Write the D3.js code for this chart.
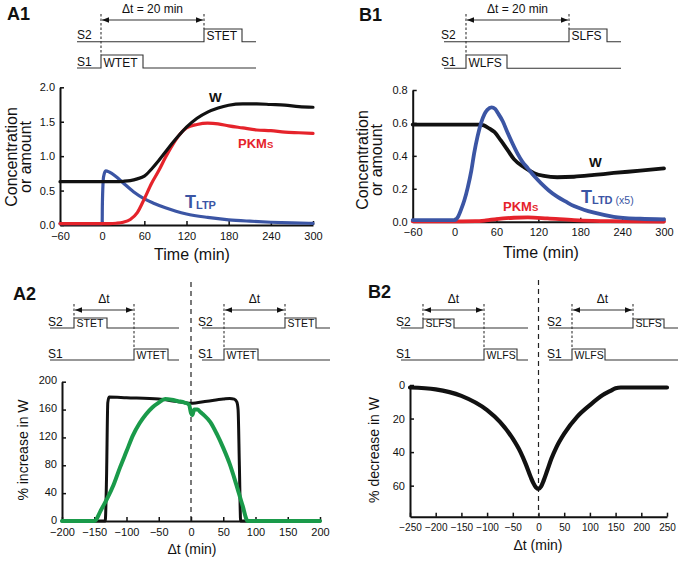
<!DOCTYPE html>
<html><head><meta charset="utf-8">
<script src="https://cdn.jsdelivr.net/npm/d3@7"></script>
<style>
body{margin:0;background:#fff;}
svg{font-family:"Liberation Sans",Arial,Helvetica,sans-serif;}
</style></head>
<body>
<svg id="c" width="682" height="562"></svg>
<script>
// ---------- DATA ----------
// A1
const tA1 = [-60,0,10,20,30,40,50,60,70,80,90,100,110,120,135,150,165,180,200,220,240,260,280,300];
const wA1 = [0.63,0.63,0.63,0.63,0.635,0.645,0.67,0.71,0.81,0.93,1.06,1.19,1.31,1.42,1.55,1.64,1.70,1.74,1.76,1.76,1.75,1.74,1.72,1.71];
const pkmA1 = [0.02,0.02,0.02,0.025,0.04,0.08,0.18,0.38,0.60,0.78,0.98,1.16,1.31,1.41,1.46,1.48,1.47,1.44,1.41,1.38,1.37,1.35,1.34,1.33];
const tTA1 = [-60,0,0.3,2,5,10,20,30,45,60,75,90,105,120,150,180,210,240,270,300];
const tltpA1 = [0.02,0.02,0.3,0.7,0.785,0.77,0.70,0.61,0.48,0.38,0.31,0.25,0.20,0.16,0.11,0.075,0.055,0.04,0.03,0.025];
const xTicksA1 = [-60,0,60,120,180,240,300];
const yTicksA1 = [0,0.5,1.0,1.5,2.0];
// B1
const tWB1 = [-60,0,20,35,42,50,57,66,76,85,100,114,128,147,171,200,228,266,300];
const wB1 = [0.59,0.59,0.59,0.59,0.585,0.565,0.545,0.495,0.435,0.38,0.33,0.295,0.278,0.27,0.273,0.284,0.296,0.31,0.324];
const tTB1 = [-60,0,5,9,14,19,24,28,33,38,43,47,53,58,62,69,76,83,90,97,105,114,124,135,147,160,171,185,200,228,266,300];
const tltdB1 = [0.01,0.01,0.03,0.07,0.13,0.21,0.31,0.415,0.52,0.6,0.655,0.68,0.695,0.685,0.66,0.61,0.54,0.475,0.415,0.365,0.324,0.277,0.233,0.19,0.152,0.12,0.095,0.073,0.055,0.03,0.018,0.014];
const tPB1 = [-60,0,30,45,60,85,105,133,171,220,300];
const pkmB1 = [0.002,0.002,0.003,0.008,0.016,0.024,0.026,0.02,0.01,0.003,0.001];
const xTicksB1 = [-60,0,60,120,180,240,300];
const yTicksB1 = [0,0.2,0.4,0.6,0.8];
// A2
const dtA2black = [-200,-140,-133,-131,-129,-127,-100,-50,-25,0,25,50,60,67,71,73,75,77,200];
const incA2black = [0,0,0,60,170,178,177,175,172,169,172,175,176,175,171,160,80,0,0];
const dtA2green = [-200,-150,-147,-140,-130,-120,-110,-100,-90,-80,-70,-60,-50,-40,-30,-20,-10,-3,0,2,5,10,15,20,30,40,50,60,70,80,88,90,200];
const incA2green = [0,0,2,15,32,52,77,100,123,140,153,163,170,175,174,172,170,167,155,152,160,160,156,152,142,125,105,82,53,22,0,0,0];
const xTicksA2 = [-200,-150,-100,-50,0,50,100,150,200];
const yTicksA2 = [0,40,80,120,160,200];
// B2
const dtB2 = [-250,-200,-150,-100,-75,-50,-35,-25,-15,-10,-5,0,5,10,17,25,35,50,75,100,125,140,150,160,200,250];
const decB2 = [1.5,2.6,6.5,15,22,32,40,47,55,58.5,61,62,60.5,57,51,44,37,29,19,12,6,3.5,2,1.5,1.5,1.5];
const xTicksB2 = [-250,-200,-150,-100,-50,0,50,100,150,200,250];
const yTicksB2 = [0,20,40,60];

// ---------- COLORS ----------
const BLACK="#111", RED="#e5232b", BLUE="#3b55a4", GREEN="#1a9a4a";

const svg = d3.select("#c");
const defs = svg.append("defs");
["s","e"].forEach(k=>{
  defs.append("marker").attr("id","arr"+k).attr("viewBox","0 0 10 10")
    .attr("refX", k==="e"?10:0).attr("refY",5).attr("markerWidth",7).attr("markerHeight",7)
    .attr("markerUnits","userSpaceOnUse").attr("orient","auto")
    .append("path").attr("d", k==="e"?"M0,1 L10,5 L0,9 Z":"M10,1 L0,5 L10,9 Z").attr("fill","#111");
});

function axes(x,y,xt,yt,fmtX,fmtY,reverseY,xfs){
  const gx = svg.append("g").attr("transform",`translate(0,${reverseY? y.range()[1] : y.range()[0]})`)
    .call(d3.axisBottom(x).tickValues(xt).tickFormat(fmtX).tickSizeInner(-4).tickSizeOuter(0).tickPadding(7));
  const gy = svg.append("g").attr("transform",`translate(${x.range()[0]},0)`)
    .call(d3.axisLeft(y).tickValues(yt).tickFormat(fmtY).tickSizeInner(-4).tickSizeOuter(0).tickPadding(5));
  [gx,gy].forEach(g=>{
    g.select(".domain").attr("stroke","#111").attr("stroke-width",2);
    g.selectAll(".tick line").attr("stroke","#111").attr("stroke-width",1.5);
    g.selectAll(".tick text").attr("fill","#111").attr("font-size",11);
  });
  if(xfs) gx.selectAll(".tick text").attr("font-size",xfs);
  return [gx,gy];
}
function curve(x,y,xs,ys,color,w){
  const line = d3.line().x((d,i)=>x(xs[i])).y((d,i)=>y(ys[i])).curve(d3.curveMonotoneX);
  svg.append("path").attr("d",line(xs)).attr("fill","none").attr("stroke",color)
    .attr("stroke-width",w).attr("stroke-linejoin","round").attr("stroke-linecap","round");
}
function txt(x,y,s,size,opts={}){
  const t = svg.append("text").attr("x",x).attr("y",y).attr("font-size",size).text(s).attr("fill",opts.fill||"#111");
  if(opts.bold) t.attr("font-weight","bold");
  if(opts.anchor) t.attr("text-anchor",opts.anchor);
  if(opts.rot!==undefined) t.attr("transform",`rotate(${opts.rot},${x},${y})`);
  return t;
}
// protocol diagram
function protocol(p){
  const g = svg.append("g").attr("stroke","#333").attr("fill","none").attr("stroke-width",1.1);
  const fs = p.fs, pfs = p.pfs;
  [[p.y2,p.top2,p.pulse2,p.lab2,"S2"],[p.y1,p.top1,p.pulse1,p.lab1,"S1"]].forEach(([yl,yt,pu,lab,s])=>{
    g.append("path").attr("d",`M${p.x0},${yl} H${pu[0]} V${yt} H${pu[1]} V${yl} H${p.x1}`);
    txt(p.lx, yl-2.5, s, fs);
    txt(pu[0]+2.5, yl-1.5, lab, pfs);
  });
  const a = p.pulse1[0], b = p.pulse2[0];
  const left = p.order==="s2first" ? b : a, right = p.order==="s2first" ? a : b;
  const topL = p.order==="s2first" ? p.top2 : p.top1;
  const topR = p.order==="s2first" ? p.top1 : p.top2;
  g.append("line").attr("x1",left).attr("x2",left).attr("y1",p.ay-6).attr("y2",topL).attr("stroke-dasharray","2.5,2");
  g.append("line").attr("x1",right).attr("x2",right).attr("y1",p.ay-6).attr("y2",topR).attr("stroke-dasharray","2.5,2");
  g.append("line").attr("x1",left+1).attr("x2",right-1).attr("y1",p.ay).attr("y2",p.ay)
    .attr("marker-start","url(#arrs)").attr("marker-end","url(#arre)");
  txt((left+right)/2, p.ty, p.dtLabel, p.dfs, {anchor:"middle"});
}

// ---------- A1 ----------
{
  const x = d3.scaleLinear().domain([-60,300]).range([60,313]);
  const y = d3.scaleLinear().domain([0,2]).range([225,87.3]);
  axes(x,y,xTicksA1,yTicksA1,d3.format("d"),d3.format(".1f"));
  curve(x,y,tTA1,tltpA1,BLUE,3.2);
  curve(x,y,tA1,pkmA1,RED,3.2);
  curve(x,y,tA1,wA1,BLACK,3.2);
  txt(209,102,"W",13.5,{bold:true});
  const t1 = txt(238,148,"PKM",13,{bold:true,fill:RED}); t1.append("tspan").attr("font-size",9.5).text("S");
  const t2 = txt(185,208,"T",18,{bold:true,fill:BLUE}); t2.append("tspan").attr("font-size",11).attr("dy",1).text("LTP");
  txt(192,260,"Time (min)",16,{anchor:"middle"});
  txt(17,157,"Concentration",16,{anchor:"middle",rot:-90});
  txt(31,157,"or amount",16,{anchor:"middle",rot:-90});
  txt(7,20,"A1",18,{bold:true});
  protocol({x0:77,x1:256,y2:41.7,top2:29,y1:68,top1:55,pulse2:[204,242],pulse1:[101,143],
    lab2:"STET",lab1:"WTET",lx:77,fs:12,pfs:12,ay:20,ty:13,dtLabel:"\u0394t = 20 min",dfs:12,order:"s1first"});
}
// ---------- B1 ----------
{
  const x = d3.scaleLinear().domain([-60,300]).range([412.7,664]);
  const y = d3.scaleLinear().domain([0,0.8]).range([221.7,90]);
  axes(x,y,xTicksB1,yTicksB1,d3.format("d"),d3.format(".1f"));
  curve(x,y,tPB1,pkmB1,RED,3.8);
  curve(x,y,tWB1,wB1,BLACK,3.8);
  curve(x,y,tTB1,tltdB1,BLUE,3.8);
  txt(589,167,"W",13.5,{bold:true});
  const t1 = txt(503,211,"PKM",13,{bold:true,fill:RED}); t1.append("tspan").attr("font-size",9.5).text("S");
  const t2 = txt(581,203,"T",18,{bold:true,fill:BLUE}); t2.append("tspan").attr("font-size",11).attr("dy",1).text("LTD");
  t2.append("tspan").attr("font-size",10.5).attr("font-weight","normal").attr("dx",3).text("(x5)");
  txt(541,258,"Time (min)",16,{anchor:"middle"});
  txt(368,160,"Concentration",16,{anchor:"middle",rot:-90});
  txt(382,160,"or amount",16,{anchor:"middle",rot:-90});
  txt(359,21,"B1",18,{bold:true});
  protocol({x0:444,x1:621,y2:41.7,top2:29,y1:68.3,top1:55,pulse2:[569,607],pulse1:[466,507],
    lab2:"SLFS",lab1:"WLFS",lx:441,fs:12,pfs:12,ay:20,ty:13,dtLabel:"\u0394t = 20 min",dfs:12,order:"s1first"});
}
// ---------- A2 ----------
{
  const x = d3.scaleLinear().domain([-200,200]).range([62,320]);
  const y = d3.scaleLinear().domain([0,200]).range([521,381.7]);
  const [gx,gy] = axes(x,y,xTicksA2,yTicksA2,d3.format("d"),d3.format("d"));
  gy.selectAll(".tick text").attr("dy","0.2em");
  svg.append("line").attr("x1",x(0)).attr("x2",x(0)).attr("y1",282).attr("y2",521)
    .attr("stroke","#222").attr("stroke-width",1.2).attr("stroke-dasharray","5,4");
  curve(x,y,dtA2black,incA2black,BLACK,3);
  curve(x,y,dtA2green,incA2green,GREEN,4);
  txt(192,554,"\u0394t (min)",14,{anchor:"middle"});
  txt(28,450,"% increase in W",14,{anchor:"middle",rot:-90});
  txt(13,300,"A2",18,{bold:true});
  protocol({x0:50,x1:179,y2:328,top2:318,y1:360,top1:349,pulse2:[74,107],pulse1:[134,168],
    lab2:"STET",lab1:"WTET",lx:48,fs:12,pfs:10.5,ay:310,ty:303,dtLabel:"\u0394t",dfs:12,order:"s2first"});
  protocol({x0:202,x1:330,y2:328,top2:318,y1:360,top1:349,pulse2:[285,316],pulse1:[224,258],
    lab2:"STET",lab1:"WTET",lx:198,fs:12,pfs:10.5,ay:310,ty:303,dtLabel:"\u0394t",dfs:12,order:"s1first"});
}
// ---------- B2 ----------
{
  const x = d3.scaleLinear().domain([-250,250]).range([410,667]);
  const y = d3.scaleLinear().domain([0,78.5]).range([385,516.7]);
  axes(x,y,xTicksB2,yTicksB2,d3.format("d"),d3.format("d"),true,10);
  svg.append("line").attr("x1",x(0)).attr("x2",x(0)).attr("y1",280).attr("y2",516)
    .attr("stroke","#222").attr("stroke-width",1.2).attr("stroke-dasharray","5,4");
  curve(x,y,dtB2,decB2,BLACK,4.2);
  txt(538,550,"\u0394t (min)",14,{anchor:"middle"});
  txt(379,450,"% decrease in W",14,{anchor:"middle",rot:-90});
  txt(368,298,"B2",18,{bold:true});
  protocol({x0:401,x1:528,y2:328,top2:319,y1:360,top1:349,pulse2:[423,454],pulse1:[484,517],
    lab2:"SLFS",lab1:"WLFS",lx:396,fs:12,pfs:10.5,ay:310,ty:303,dtLabel:"\u0394t",dfs:12,order:"s2first"});
  protocol({x0:549,x1:678,y2:328,top2:319,y1:360,top1:349,pulse2:[633,664],pulse1:[572,605],
    lab2:"SLFS",lab1:"WLFS",lx:547,fs:12,pfs:10.5,ay:310,ty:303,dtLabel:"\u0394t",dfs:12,order:"s1first"});
}
</script>
</body></html>
